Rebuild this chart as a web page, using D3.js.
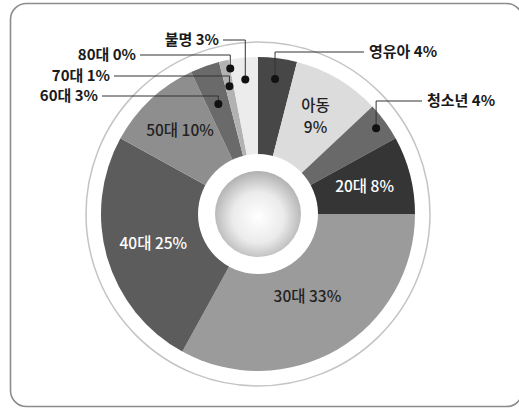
<!DOCTYPE html>
<html>
<head>
<meta charset="utf-8">
<script src="https://cdn.jsdelivr.net/npm/d3@7"></script>
<style>
  body { margin: 0; background: #fff; }
  svg { display: block; font-family: "Noto Sans CJK KR", "Noto Sans", sans-serif; }
</style>
</head>
<body>
<svg width="519" height="409"></svg>
<script>
// data
var groups = ["영유아", "아동", "청소년", "20대", "30대", "40대", "50대", "60대", "70대", "80대", "불명"];
var shares = [4, 9, 4, 8, 33, 25, 10, 3, 1, 0, 3];
var fills  = ["#474747", "#dcdcdc", "#696969", "#353535", "#9b9b9b", "#5c5c5c", "#8e8e8e", "#6a6a6a", "#b2b2b2", "#8a8a8a", "#ececec"];

// labels drawn inside slices
var inside = {
  "아동": {lines: ["아동", "9%"], color: "#222", r: 113},
  "20대": {lines: ["20대 8%"], color: "#fff", r: 110},
  "30대": {lines: ["30대 33%"], color: "#222", r: 97},
  "40대": {lines: ["40대 25%"], color: "#fff", r: 109},
  "50대": {lines: ["50대 10%"], color: "#222", r: 114}
};

// call-out labels: dot radius, elbow height, end of leader line
var callouts = {
  "영유아": {r: 136, elbowY: 52, endX: 364, side: "right"},
  "청소년": {r: 146, elbowY: 101, endX: 422, side: "right"},
  "60대":  {r: 117, elbowY: 96, endX: 102, side: "left"},
  "70대":  {r: 131, elbowY: 76, endX: 114, side: "left"},
  "80대":  {r: 148, elbowY: 55, endX: 140, side: "left"},
  "불명":  {r: 135, elbowY: 40, endX: 223, side: "left"}
};

var svg = d3.select("svg");
var cx = 258, cy = 214, radius = 157;

// frame
svg.append("rect")
  .attr("x", 10.5).attr("y", 3.5)
  .attr("width", 512).attr("height", 403)
  .attr("rx", 16)
  .attr("fill", "none")
  .attr("stroke", "#8c8c8c")
  .attr("stroke-width", 1.6);

var defs = svg.append("defs");
var grad = defs.append("radialGradient")
  .attr("id", "ball")
  .attr("cx", "50%").attr("cy", "54%").attr("r", "54%");
grad.append("stop").attr("offset", "0%").attr("stop-color", "#ffffff");
grad.append("stop").attr("offset", "55%").attr("stop-color", "#ebebeb");
grad.append("stop").attr("offset", "100%").attr("stop-color", "#b0b0b0");

var g = svg.append("g").attr("transform", "translate(" + cx + "," + cy + ")");

// outer thin ring
g.append("circle")
  .attr("r", 172)
  .attr("fill", "none")
  .attr("stroke", "#c4c4c4")
  .attr("stroke-width", 1.5);

var table = groups.map(function(d, i) { return {name: d, value: shares[i], fill: fills[i]}; });

var pie = d3.pie().sort(null).value(function(d) { return d.value; });
var arcs = pie(table);

var arc = d3.arc().innerRadius(0).outerRadius(radius);

g.selectAll("path.slice")
  .data(arcs)
  .enter()
  .append("path")
  .attr("class", "slice")
  .attr("d", arc)
  .attr("fill", function(d) { return d.data.fill; });

// centre hole and ball
g.append("circle").attr("r", 60).attr("fill", "#fff");
g.append("circle").attr("r", 43).attr("fill", "url(#ball)");

function polar(a, r) {
  return [Math.sin(a) * r, -Math.cos(a) * r];
}

// inside labels
arcs.forEach(function(d) {
  var lab = inside[d.data.name];
  if (!lab) return;
  var mid = (d.startAngle + d.endAngle) / 2;
  var p = polar(mid, lab.r);
  var t = g.append("text")
    .attr("x", p[0])
    .attr("y", p[1])
    .attr("text-anchor", "middle")
    .attr("fill", lab.color)
    .style("font-size", "15.5px")
    .style("font-weight", "500");
  lab.lines.forEach(function(line, i) {
    t.append("tspan")
      .attr("x", p[0])
      .attr("dy", i == 0 ? (5 - (lab.lines.length - 1) * 11) + "px" : "22px")
      .text(line);
  });
});

// call-outs
arcs.forEach(function(d) {
  var c = callouts[d.data.name];
  if (!c) return;
  var mid = (d.startAngle + d.endAngle) / 2;
  var p = polar(mid, c.r);
  var x = p[0] + cx, y = p[1] + cy;
  svg.append("path")
    .attr("d", "M" + x + "," + y + "V" + c.elbowY + "H" + c.endX)
    .attr("fill", "none")
    .attr("stroke", "#333")
    .attr("stroke-width", 1);
  svg.append("circle")
    .attr("cx", x).attr("cy", y)
    .attr("r", 4)
    .attr("fill", "#111");
  svg.append("text")
    .attr("x", c.side == "right" ? c.endX + 5 : c.endX - 4)
    .attr("y", c.elbowY + 5)
    .attr("text-anchor", c.side == "right" ? "start" : "end")
    .attr("fill", "#1a1a1a")
    .style("font-size", "15px")
    .style("font-weight", "bold")
    .text(d.data.name + " " + d.data.value + "%");
});
</script>
</body>
</html>
